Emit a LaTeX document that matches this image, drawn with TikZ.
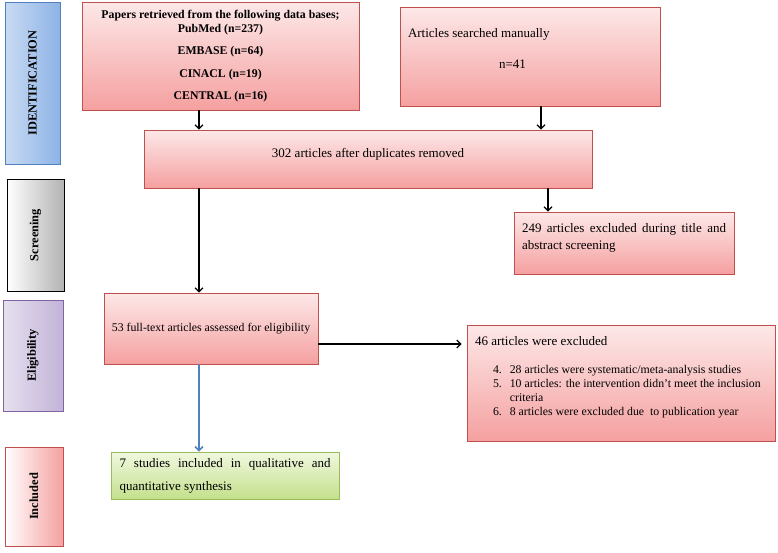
\documentclass[tikz,border=0pt]{standalone}
\usepackage{fontspec}
\setmainfont{Liberation Serif}
\usetikzlibrary{arrows,arrows.meta,positioning,shadows}
\definecolor{redline}{HTML}{C0504D}
\definecolor{redtop}{HTML}{FDE8E8}
\definecolor{redbottom}{HTML}{F5A0A0}
\definecolor{greenline}{HTML}{9BBB59}
\definecolor{greentop}{HTML}{F0F8DF}
\definecolor{greenbottom}{HTML}{C4E08C}
\definecolor{blueline}{HTML}{4F81BD}
\definecolor{bluelight}{HTML}{C9DBF3}
\definecolor{bluedark}{HTML}{8DB3E6}
\definecolor{purpleline}{HTML}{8064A2}
\definecolor{purplelight}{HTML}{E6E0EF}
\definecolor{purpledark}{HTML}{C2B3D8}
\newcommand{\upright}[1]{\rotatebox{90}{#1}}

\begin{document}
\begin{tikzpicture}[x=1pt,y=-1pt,
    stage/.style={line width=0.9pt,inner sep=0pt,
      font=\fontsize{12.4}{14}\selectfont\bfseries,
      drop shadow={shadow xshift=1pt,shadow yshift=-1pt,opacity=0.2}},
    redbox/.style={draw=redline,line width=0.8pt,top color=redtop,bottom color=redbottom,
      inner sep=0pt,font=\fontsize{13}{15}\selectfont,
      drop shadow={shadow xshift=1.2pt,shadow yshift=-1.2pt,opacity=0.2}},
    flow/.style={-{Straight Barb[length=4pt,width=8pt]},line width=1.2pt}]
    \useasboundingbox (0,0) rectangle (778,552);

    % stages on the left
    \node[stage,draw=blueline,left color=bluelight,right color=bluedark,
      minimum width=55,minimum height=162] (IDENT) at (32.5,83) {\upright{IDENTIFICATION}};
    \node[stage,draw=black,left color=white,right color=black!30,
      minimum width=57,minimum height=112] (SCREEN) at (35.5,235) {\upright{Screening}};
    \node[stage,draw=purpleline,left color=purplelight,right color=purpledark,
      minimum width=60,minimum height=111] (ELIG) at (33,355.5) {\upright{Eligibility}};
    \node[stage,draw=redline,left color=white,right color=redbottom,
      minimum width=58,minimum height=99] (INCL) at (34,496.5) {\upright{Included}};

    % flow boxes
    \node[redbox,minimum width=277,minimum height=108,font=\fontsize{11.8}{14}\selectfont\bfseries,
      align=center] (PAPERS) at (220.5,56)
      {Papers retrieved from the following data bases;\\ PubMed (n=237)\\[8.5pt]
       EMBASE (n=64)\\[8.5pt] CINACL (n=19)\\[8.5pt] CENTRAL (n=16)};
    \node[redbox,minimum width=260,minimum height=99] (MANUAL) at (530,56.5)
      {\parbox[c][57pt][t]{244pt}{Articles searched manually\\[16pt]\hspace*{91pt}n=41}};
    \node[redbox,minimum width=448,minimum height=58] (DUPL) at (368,159)
      {\parbox[c][22pt][t]{440pt}{\centering 302 articles after duplicates removed}};
    \node[redbox,minimum width=220,minimum height=62] (EXCL1) at (624,243)
      {\parbox[c][40pt][t]{204pt}{\fontsize{13}{17}\selectfont
       249 articles excluded during title and abstract screening}};
    \node[redbox,minimum width=214,minimum height=71,font=\fontsize{11.8}{14}\selectfont]
      (FULL) at (211,328.5) {53 full-text articles assessed for eligibility};
    \node[redbox,minimum width=308,minimum height=116] (EXCL2) at (621,383)
      {\parbox[c][94pt][t]{292pt}{46 articles were excluded\par\vspace{13pt}
       \noindent{\fontsize{11.8}{14.3}\selectfont
       \begin{tabular}[t]{@{\hspace{18pt}}l@{\hspace{8pt}}l}
       4. & 28 articles were systematic/meta-analysis studies\\
       5. & 10 articles: the intervention didn't meet the inclusion\\
          & criteria\\
       6. & 8 articles were excluded due\ \ to publication year
       \end{tabular}}}};
    \node[draw=greenline,line width=0.8pt,top color=greentop,bottom color=greenbottom,
      inner sep=0pt,minimum width=228,minimum height=47,text width=211pt,align=justify,
      font=\fontsize{13}{23}\selectfont,
      drop shadow={shadow xshift=1.2pt,shadow yshift=-1.2pt,opacity=0.2}]
      (INCLUDED) at (225,475.5) {7 studies included in qualitative and quantitative synthesis};

    % connectors
    \coordinate (COLL) at (199,0);
    \coordinate (COLR) at (541,0);
    \coordinate (COLX) at (548,0);
    \draw[flow] (PAPERS.south -| COLL) -- (DUPL.north -| COLL);
    \draw[flow] (MANUAL.south -| COLR) -- (DUPL.north -| COLR);
    \draw[flow] (DUPL.south -| COLL) -- (FULL.north -| COLL);
    \draw[flow] (DUPL.south -| COLX) -- (EXCL1.north -| COLX);
    \draw[flow,shorten >=5pt] ([yshift=-15.5pt]FULL.east) -- ([yshift=-15.5pt]FULL.east -| EXCL2.west);
    \draw[flow,draw=blueline,line width=1.5pt] (FULL.south -| COLL) -- (INCLUDED.north -| COLL);
\end{tikzpicture}
\end{document}
